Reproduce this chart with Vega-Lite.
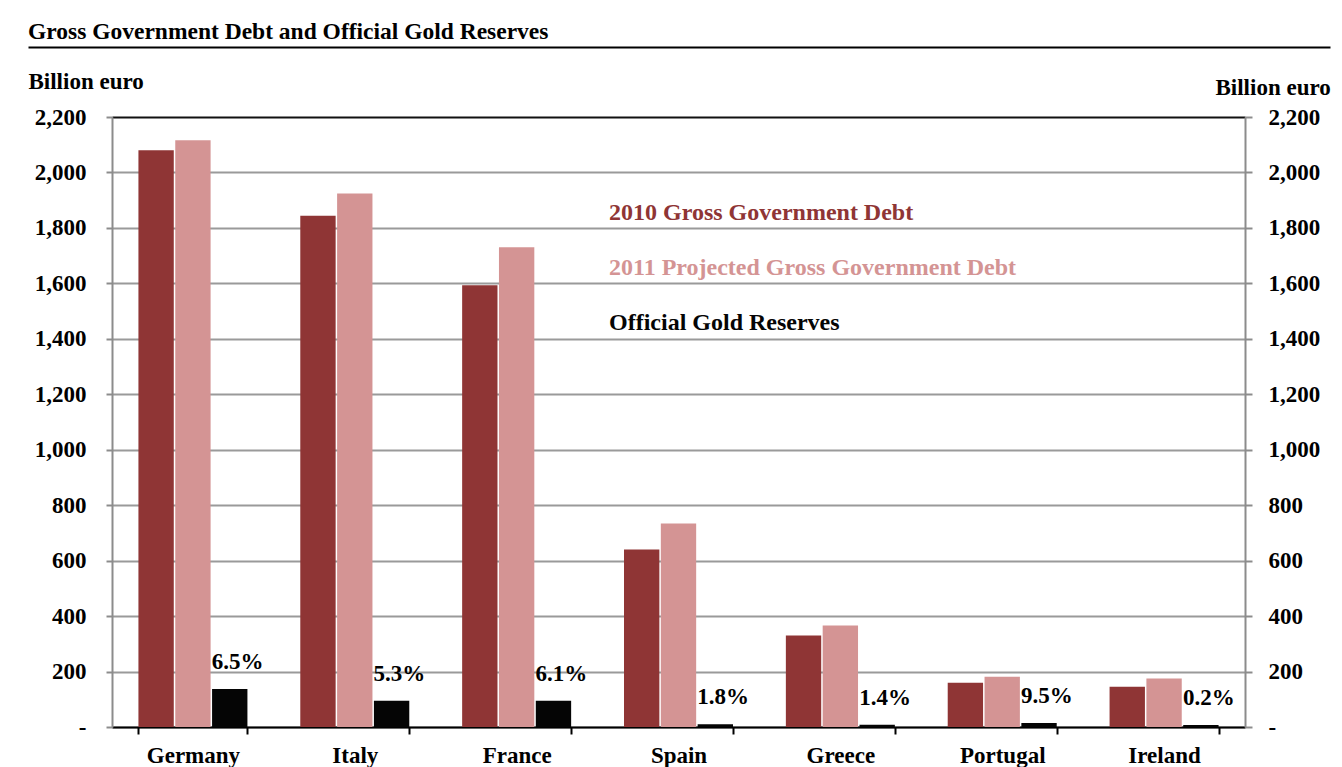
{
  "$schema": "https://vega.github.io/schema/vega-lite/v6.json",
  "width": 1133,
  "height": 610,
  "autosize": {"type": "none"},
  "padding": {"left": 112, "top": 117, "right": 97, "bottom": 40},
  "background": "white",
  "title": {
    "text": "Gross Government Debt and Official Gold Reserves",
    "anchor": "start",
    "frame": "group",
    "dx": -84,
    "offset": 4,
    "font": "Liberation Serif",
    "fontSize": 23.5,
    "fontWeight": "bold",
    "color": "black"
  },
  "config": {
    "view": {"stroke": null},
    "axis": {
      "labelFont": "Liberation Serif",
      "labelFontWeight": "bold",
      "labelColor": "black",
      "titleFont": "Liberation Serif",
      "titleFontWeight": "bold",
      "titleColor": "black"
    }
  },
  "datasets": {
    "bars": [
      {"country": "Germany", "series": "2010 Gross Government Debt", "value": 2080, "share": null},
      {"country": "Germany", "series": "2011 Projected Gross Government Debt", "value": 2116, "share": null},
      {"country": "Germany", "series": "Official Gold Reserves", "value": 137, "share": "6.5%"},
      {"country": "Italy", "series": "2010 Gross Government Debt", "value": 1844, "share": null},
      {"country": "Italy", "series": "2011 Projected Gross Government Debt", "value": 1924, "share": null},
      {"country": "Italy", "series": "Official Gold Reserves", "value": 95, "share": "5.3%"},
      {"country": "France", "series": "2010 Gross Government Debt", "value": 1593, "share": null},
      {"country": "France", "series": "2011 Projected Gross Government Debt", "value": 1730, "share": null},
      {"country": "France", "series": "Official Gold Reserves", "value": 95, "share": "6.1%"},
      {"country": "Spain", "series": "2010 Gross Government Debt", "value": 640, "share": null},
      {"country": "Spain", "series": "2011 Projected Gross Government Debt", "value": 734, "share": null},
      {"country": "Spain", "series": "Official Gold Reserves", "value": 10, "share": "1.8%"},
      {"country": "Greece", "series": "2010 Gross Government Debt", "value": 330, "share": null},
      {"country": "Greece", "series": "2011 Projected Gross Government Debt", "value": 366, "share": null},
      {"country": "Greece", "series": "Official Gold Reserves", "value": 8, "share": "1.4%"},
      {"country": "Portugal", "series": "2010 Gross Government Debt", "value": 160, "share": null},
      {"country": "Portugal", "series": "2011 Projected Gross Government Debt", "value": 181, "share": null},
      {"country": "Portugal", "series": "Official Gold Reserves", "value": 14, "share": "9.5%"},
      {"country": "Ireland", "series": "2010 Gross Government Debt", "value": 145, "share": null},
      {"country": "Ireland", "series": "2011 Projected Gross Government Debt", "value": 175, "share": null},
      {"country": "Ireland", "series": "Official Gold Reserves", "value": 7, "share": "0.2%"}
    ],
    "legend": [
      {"series": "2010 Gross Government Debt"},
      {"series": "2011 Projected Gross Government Debt"},
      {"series": "Official Gold Reserves"}
    ]
  },
  "layer": [
    {
      "data": {"name": "bars"},
      "encoding": {
        "x": {
          "field": "country",
          "type": "nominal",
          "sort": null,
          "scale": {"paddingInner": 0.3266, "paddingOuter": 0.1633},
          "axis": {
            "title": null,
            "labelAngle": 0,
            "labelFontSize": 23,
            "labelPadding": 10,
            "domainColor": "black",
            "domainWidth": 2,
            "tickColor": "black",
            "tickWidth": 2,
            "tickSize": 7,
            "tickBand": "extent",
            "grid": false
          }
        },
        "xOffset": {
          "field": "series",
          "type": "nominal",
          "sort": ["2010 Gross Government Debt", "2011 Projected Gross Government Debt", "Official Gold Reserves"],
          "scale": {"paddingInner": 0.04}
        },
        "y": {
          "field": "value",
          "type": "quantitative",
          "scale": {"domain": [0, 2200], "nice": false}
        }
      },
      "layer": [
        {
          "mark": {"type": "bar"},
          "encoding": {
            "color": {
              "field": "series",
              "type": "nominal",
              "scale": {
                "domain": ["2010 Gross Government Debt", "2011 Projected Gross Government Debt", "Official Gold Reserves"],
                "range": ["#8F3535", "#D49494", "#050505"]
              },
              "legend": null
            },
            "y": {
              "field": "value",
              "type": "quantitative",
              "axis": {
                "orient": "left",
                "values": [0, 200, 400, 600, 800, 1000, 1200, 1400, 1600, 1800, 2000, 2200],
                "labelExpr": "datum.value == 0 ? '-' : format(datum.value, ',')",
                "labelFontSize": 23,
                "labelPadding": 20,
                "tickSize": 6,
                "tickColor": "#8c8c8c",
                "tickWidth": 2,
                "domainColor": "#8c8c8c",
                "domainWidth": 2,
                "grid": true,
                "gridColor": {"condition": {"test": "datum.value == 2200", "value": "#111111"}, "value": "#9a9a9a"},
                "gridWidth": 2,
                "title": "Billion euro",
                "titleAngle": 0,
                "titleAlign": "left",
                "titleBaseline": "middle",
                "titleFontSize": 23,
                "titleX": -84,
                "titleY": -36
              }
            }
          }
        },
        {
          "transform": [{"filter": "datum.share != null"}],
          "mark": {
            "type": "text",
            "align": "left",
            "baseline": "alphabetic",
            "dx": -18,
            "dy": -20,
            "font": "Liberation Serif",
            "fontSize": 23,
            "fontWeight": "bold",
            "color": "black"
          },
          "encoding": {
            "text": {"field": "share"},
            "y": {
              "field": "value",
              "type": "quantitative",
              "axis": {
                "orient": "right",
                "values": [0, 200, 400, 600, 800, 1000, 1200, 1400, 1600, 1800, 2000, 2200],
                "labelExpr": "datum.value == 0 ? '-' : format(datum.value, ',')",
                "labelFontSize": 23,
                "labelPadding": 16,
                "tickSize": 7,
                "tickColor": "#8c8c8c",
                "tickWidth": 2,
                "domainColor": "#8c8c8c",
                "domainWidth": 2,
                "grid": false,
                "title": "Billion euro",
                "titleAngle": 0,
                "titleAlign": "left",
                "titleBaseline": "middle",
                "titleFontSize": 23,
                "titleX": -30,
                "titleY": -30
              }
            }
          }
        }
      ],
      "resolve": {"axis": {"y": "independent"}}
    },
    {
      "data": {"name": "legend"},
      "mark": {
        "type": "text",
        "align": "left",
        "baseline": "middle",
        "dx": -70,
        "font": "Liberation Serif",
        "fontSize": 24,
        "fontWeight": "bold"
      },
      "encoding": {
        "x": {
          "datum": "Spain",
          "type": "nominal",
          "scale": {"type": "point", "range": [-84, 1218], "padding": 0},
          "axis": {
            "orient": "top",
            "offset": 70,
            "labels": false,
            "ticks": false,
            "grid": false,
            "title": null,
            "domainColor": "black",
            "domainWidth": 2
          }
        },
        "y": {
          "field": "series",
          "type": "nominal",
          "sort": null,
          "scale": {"type": "point", "range": [96, 206], "padding": 0},
          "axis": null
        },
        "text": {"field": "series"},
        "color": {"field": "series", "type": "nominal", "legend": null}
      }
    }
  ],
  "resolve": {"scale": {"x": "independent", "y": "independent"}}
}
